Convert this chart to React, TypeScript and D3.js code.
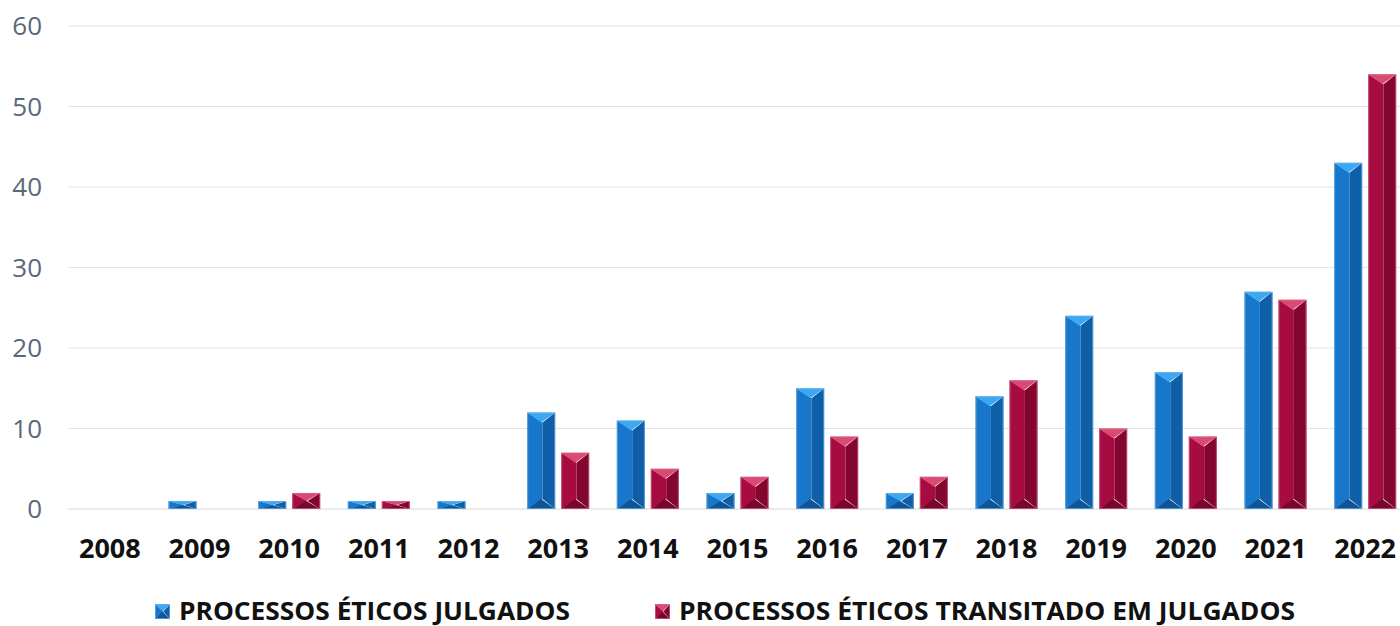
import React from "react";
import * as d3 from "d3";

const years = ["2008","2009","2010","2011","2012","2013","2014","2015","2016","2017","2018","2019","2020","2021","2022"];
const julgados = [0,1,1,1,1,12,11,2,15,2,14,24,17,27,43];
const transitados = [0,0,2,1,0,7,5,4,9,4,16,10,9,26,54];
const yTicks = [0,10,20,30,40,50,60];
const seriesNames = ["PROCESSOS ÉTICOS JULGADOS", "PROCESSOS ÉTICOS TRANSITADO EM JULGADOS"];

const W = 1400, H = 626;
const plot = { left: 65, right: 1410, top: 26, bottom: 509 };

const palettes = [
  { left: "#1877cb", right: "#0f5ea8", top: "#3ca8f4", bottom: "#0d5597", stroke: "#6aaee3" },
  { left: "#a60c41", right: "#83062f", top: "#db4a72", bottom: "#78052c", stroke: "#cf6a88" },
];

function BevelBar({ x, y, w, h, p }: { x: number; y: number; w: number; h: number; p: any }) {
  if (h <= 0) return null;
  const d = Math.min(10, h / 2);
  const cx = x + w * 0.55;
  return (
    <g>
      <polygon points={`${x},${y} ${cx},${y + d} ${cx},${y + h - d} ${x},${y + h}`} fill={p.left} />
      <polygon points={`${x + w},${y} ${cx},${y + d} ${cx},${y + h - d} ${x + w},${y + h}`} fill={p.right} />
      <polygon points={`${x},${y} ${x + w},${y} ${x + w / 2},${y + d}`} fill={p.top} />
      <polygon points={`${x},${y + h} ${x + w},${y + h} ${x + w / 2},${y + h - d}`} fill={p.bottom} />
      <rect x={x + 0.5} y={y + 0.5} width={w - 1} height={h - 1} fill="none" stroke={p.stroke} strokeWidth={1} opacity={0.7} />
    </g>
  );
}

export default function App() {
  const x0 = d3.scaleBand().domain(years).range([plot.left, plot.right]).paddingInner(0).paddingOuter(0);
  const y = d3.scaleLinear().domain([0, 60]).range([plot.bottom, plot.top]);
  const barW = 28, gap = 6;
  const font = "'Open Sans', 'DejaVu Sans', sans-serif";
  const series = [julgados, transitados];
  const legendLen = [391, 616];
  return (
    <div style={{ position: "absolute", left: 0, top: 0 }}>
      <svg width={W} height={H} style={{ display: "block", background: "#fff" }}>
        {yTicks.map((t) => (
          <g key={t}>
            <line x1={plot.left + 3} x2={W} y1={y(t)} y2={y(t)} stroke={t === 0 ? "#d9d9d9" : "#e3e3e3"} strokeWidth={1} />
            <text x={42} y={y(t)} dy="0.36em" textAnchor="end" fontFamily={font} fontSize={26} fill="#5a677a">{t}</text>
          </g>
        ))}
        {years.map((yr, i) => {
          const c = (x0(yr) as number) + x0.bandwidth() / 2;
          return (
            <g key={yr}>
              {series.map((s, k) => {
                const v = s[i];
                const bx = k === 0 ? c - gap / 2 - barW : c + gap / 2;
                return <BevelBar key={k} x={bx} y={y(v)} w={barW} h={y(0) - y(v)} p={palettes[k]} />;
              })}
              <text x={c} y={558} textAnchor="middle" fontFamily={font} fontWeight={700} fontSize={27} fill="#111">{yr}</text>
            </g>
          );
        })}
        {seriesNames.map((name, k) => {
          const lx = k === 0 ? 155 : 655;
          return (
            <g key={name}>
              <BevelBar x={lx} y={604} w={15} h={15} p={palettes[k]} />
              <text x={lx + 24} y={620} fontFamily={font} fontWeight={700} fontSize={25} textLength={legendLen[k]} lengthAdjust="spacingAndGlyphs" fill="#111">{name}</text>
            </g>
          );
        })}
      </svg>
    </div>
  );
}
